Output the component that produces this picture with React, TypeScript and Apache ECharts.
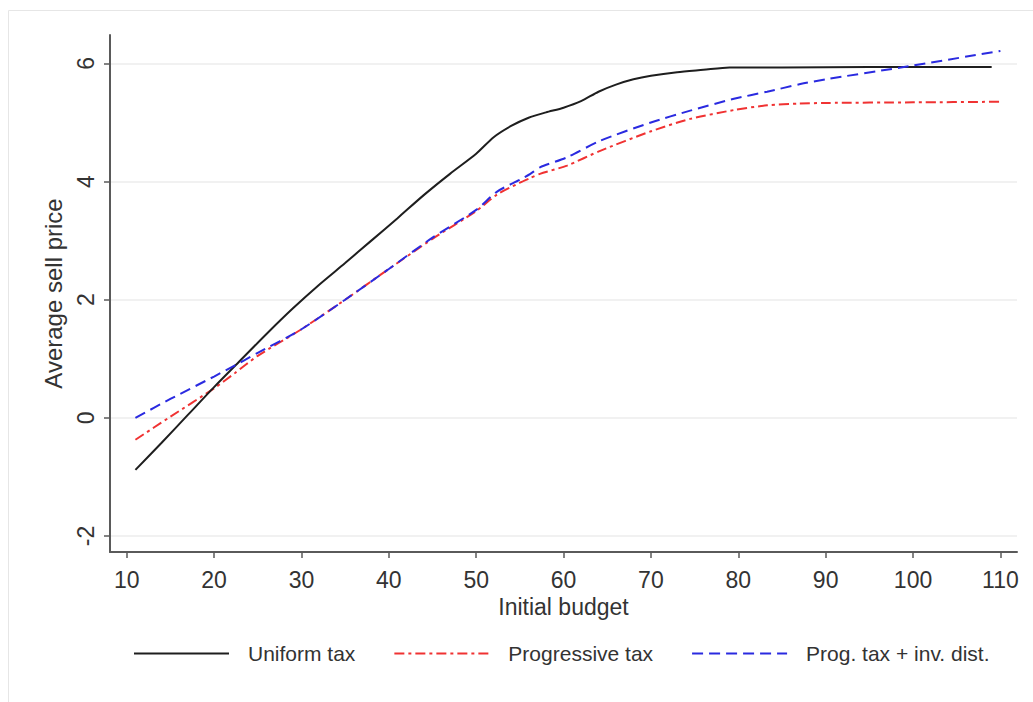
import React, { useEffect, useRef } from "react";
import * as echarts from "echarts";

const uniformX = [11, 14, 17, 20, 23, 26, 29, 32, 35, 38, 41, 44, 47, 50, 52, 54, 56, 58, 60, 62, 64, 66, 68, 70, 73, 76, 79, 85, 95, 109];
const uniformY = [-0.88, -0.42, 0.05, 0.52, 0.97, 1.42, 1.85, 2.25, 2.62, 3.0, 3.38, 3.77, 4.13, 4.47, 4.75, 4.94, 5.08, 5.17, 5.25, 5.36, 5.52, 5.64, 5.73, 5.79, 5.85, 5.89, 5.93, 5.93, 5.94, 5.94];

const progX = [11, 15, 20, 22.4, 25, 30, 35, 40, 45, 50, 52.4, 55, 56.2, 57.3, 60.4, 64.2, 70, 74.5, 79.5, 83.3, 87, 90, 100, 110];
const progY = [-0.37, 0.02, 0.5, 0.76, 1.05, 1.5, 2.0, 2.52, 3.03, 3.5, 3.78, 3.98, 4.06, 4.13, 4.27, 4.52, 4.85, 5.06, 5.21, 5.29, 5.32, 5.33, 5.34, 5.35];

const distX = [11, 15, 20, 22.4, 25, 30, 35, 40, 45, 50, 52.4, 55, 56.2, 57.3, 60.4, 64.2, 70, 74.5, 79.5, 83.3, 87.1, 90, 98.6, 110];
const distY = [0.0, 0.32, 0.7, 0.89, 1.1, 1.5, 2.0, 2.52, 3.05, 3.52, 3.83, 4.03, 4.13, 4.24, 4.41, 4.69, 5.0, 5.2, 5.4, 5.52, 5.65, 5.73, 5.93, 6.21];

const xTicks = [10, 20, 30, 40, 50, 60, 70, 80, 90, 100, 110];
const yTicks = [-2, 0, 2, 4, 6];

const seriesNames = ["Uniform tax", "Progressive tax", "Prog. tax + inv. dist."];

const zip = (xs: number[], ys: number[]) => xs.map((x, i) => [x, ys[i]]);

export default function App() {
  const ref = useRef<HTMLDivElement>(null);
  useEffect(() => {
    if (!ref.current) return;
    const chart = echarts.init(ref.current, null, { renderer: "svg" });
    const font = "'Liberation Sans', Arial, sans-serif";
    const axisColor = "#5a5a5a";
    chart.setOption({
      animation: false,
      backgroundColor: "#ffffff",
      textStyle: { fontFamily: font },
      graphic: [
        {
          type: "rect",
          shape: { x: 8.5, y: 10.5, width: 1060, height: 720 },
          style: { fill: "none", stroke: "#e6e6e6", lineWidth: 1 },
          silent: true,
          z: -10,
        },
      ],
      grid: { left: 110, right: 16, top: 35, bottom: 150, containLabel: false },
      legend: {
        left: 133,
        top: 643,
        padding: 0,
        itemWidth: 95,
        itemHeight: 22,
        itemGap: 38,
        data: seriesNames,
        itemStyle: { opacity: 0 },
        textStyle: { fontSize: 21, color: "#333", fontFamily: font, padding: [0, 0, 0, 14] },
      },
      xAxis: {
        type: "value",
        min: 8.09,
        max: 111.9,
        name: "Initial budget",
        nameLocation: "middle",
        nameGap: 41,
        nameTextStyle: { fontSize: 23, color: "#333", fontFamily: font },
        axisLine: { show: true, onZero: false, lineStyle: { color: axisColor, width: 2 } },
        axisTick: { show: true, length: 6, customValues: xTicks, lineStyle: { color: axisColor, width: 1.5 } },
        axisLabel: { customValues: xTicks, fontSize: 23, color: "#333", margin: 16, fontFamily: font },
        splitLine: { show: false },
      },
      yAxis: {
        type: "value",
        min: -2.27,
        max: 6.48,
        name: "Average sell price",
        nameLocation: "middle",
        nameGap: 45,
        nameTextStyle: { fontSize: 24, color: "#333", fontFamily: font },
        axisLine: { show: true, onZero: false, lineStyle: { color: axisColor, width: 2 } },
        axisTick: { show: true, length: 6, customValues: yTicks, lineStyle: { color: axisColor, width: 1.5 } },
        axisLabel: { customValues: yTicks, fontSize: 23, color: "#333", margin: 13, rotate: 90, fontFamily: font },
        splitLine: { show: false },
      },
      series: [
        {
          name: seriesNames[0],
          type: "line",
          data: zip(uniformX, uniformY),
          showSymbol: false,
          symbol: "none",
          smooth: 0.25,
          lineStyle: { color: "#1e1e1e", width: 2 },
          itemStyle: { color: "#1e1e1e" },
          markLine: {
            silent: true,
            symbol: "none",
            label: { show: false },
            lineStyle: { color: "#ececec", width: 1.5, type: "solid" },
            data: yTicks.map((v) => ({ yAxis: v })),
            z: 0,
          },
          z: 5,
        },
        {
          name: seriesNames[1],
          type: "line",
          data: zip(progX, progY),
          showSymbol: false,
          symbol: "none",
          smooth: 0.25,
          lineStyle: { color: "#f03232", width: 2, type: [10, 4, 3, 4] },
          itemStyle: { color: "#f03232" },
          z: 4,
        },
        {
          name: seriesNames[2],
          type: "line",
          data: zip(distX, distY),
          showSymbol: false,
          symbol: "none",
          smooth: 0.25,
          lineStyle: { color: "#2a2ae0", width: 2, type: [11, 6] },
          itemStyle: { color: "#2a2ae0" },
          z: 6,
        },
      ],
    });
    return () => chart.dispose();
  }, []);
  return <div ref={ref} style={{ position: "absolute", left: 0, top: 0, width: 1033, height: 702 }} />;
}
